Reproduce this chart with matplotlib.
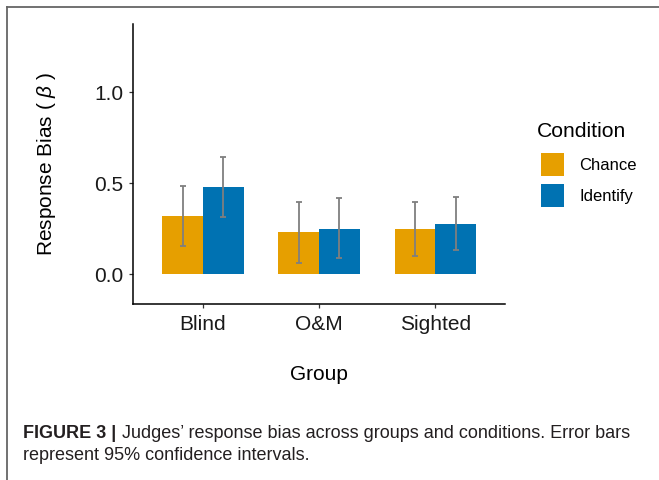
import numpy as np
import matplotlib
matplotlib.use("Agg")
import matplotlib.pyplot as plt
from matplotlib.patches import Patch
from matplotlib.lines import Line2D

plt.rcParams['font.family'] = ['Liberation Sans', 'DejaVu Sans']
plt.rcParams['mathtext.fontset'] = 'custom'
plt.rcParams['mathtext.it'] = 'Liberation Sans:italic'
plt.rcParams['mathtext.rm'] = 'Liberation Sans'

groups = ["Blind", "O&M", "Sighted"]
conditions = ["Chance", "Identify"]
chance_mean = [0.317, 0.229, 0.245]
chance_lo = [0.156, 0.062, 0.097]
chance_hi = [0.482, 0.397, 0.394]
identify_mean = [0.476, 0.249, 0.276]
identify_lo = [0.315, 0.086, 0.132]
identify_hi = [0.641, 0.416, 0.425]

colors = ["#E69F00", "#0072B2"]
W, H = 659, 480

fig = plt.figure(figsize=(W / 100, H / 100), dpi=100)
ax = fig.add_axes([133.3 / W, 1 - 304.3 / H, (505 - 133.3) / W, (304.3 - 24) / H])

x = np.arange(1, len(groups) + 1)
bw = 0.35
series = [(chance_mean, chance_lo, chance_hi), (identify_mean, identify_lo, identify_hi)]
for i, (m, lo, hi) in enumerate(series):
    m = np.array(m)
    pos = x + (i - 0.5) * bw
    ax.bar(pos, m, width=bw, color=colors[i], linewidth=0, zorder=2)
    err = [m - np.array(lo), np.array(hi) - m]
    ax.errorbar(pos, m, yerr=err, fmt='none', ecolor='#7f7f7f', elinewidth=1.3,
                capsize=2.5, capthick=1.3, zorder=3)

ax.set_xlim(0.4, 3.6)
ax.set_ylim(-0.166, 1.374)
ax.set_xticks(x)
ax.set_xticklabels(groups)
ax.set_yticks([0.0, 0.5, 1.0])
ax.set_yticklabels(["0.0", "0.5", "1.0"])
for s in ["top", "right"]:
    ax.spines[s].set_visible(False)
for s in ["left", "bottom"]:
    ax.spines[s].set_linewidth(1.1)
    ax.spines[s].set_color("black")
ax.tick_params(axis='both', length=3, width=0.9, color='#333333', labelsize=15,
               labelcolor='#1a1a1a')
ax.tick_params(axis='x', pad=5)
ax.tick_params(axis='y', pad=4)
ax.set_xlabel("Group", fontsize=15, labelpad=22)
ax.set_ylabel("Response Bias ( $\\beta$ )", fontsize=15, labelpad=26)

# legend: title as its own text, keys below
fig.text(537 / W, 1 - 137.3 / H, "Condition", fontsize=15.2, va='baseline', ha='left')
handles = [Patch(facecolor=c, edgecolor='none') for c in colors]
leg = fig.legend(handles, conditions, loc='upper left',
                 bbox_to_anchor=(540.7 / W, 1 - 152.7 / H), frameon=False,
                 fontsize=12, borderpad=0, borderaxespad=0,
                 handlelength=1.38, handleheight=1.8, handletextpad=0.95,
                 labelspacing=0.44)

# outer frame of the figure panel
fig.add_artist(Line2D([7 / W, 1], [1 - 7 / H, 1 - 7 / H], transform=fig.transFigure,
                      color='#666666', linewidth=1.3))
fig.add_artist(Line2D([7 / W, 7 / W], [0, 1 - 7 / H], transform=fig.transFigure,
                      color='#666666', linewidth=1.3))

cap_fs = 13.0
bold = fig.text(23 / W, 1 - 438 / H, "FIGURE 3 |", fontsize=cap_fs, fontweight='bold',
                color='#231f20', va='baseline', ha='left')
ax.annotate("Judges\u2019 response bias across groups and conditions. Error bars",
            xy=(1, 0), xycoords=bold, xytext=(4, 0), textcoords='offset points',
            fontsize=cap_fs, color='#231f20', va='bottom', ha='left',
            annotation_clip=False)
fig.text(23 / W, 1 - 460 / H, "represent 95% confidence intervals.",
         fontsize=cap_fs, color='#231f20', va='baseline', ha='left')

fig.savefig("out.png", dpi=100)
